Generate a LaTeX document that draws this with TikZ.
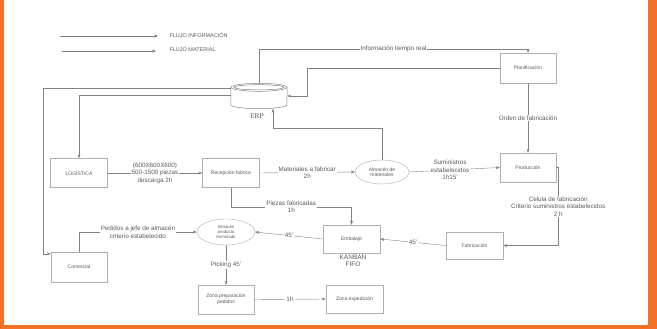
\documentclass[tikz,border=0pt]{standalone}
\usepackage{fontspec}
\setmainfont{Liberation Sans}
\newfontfamily\erpfont{Liberation Serif}
\usetikzlibrary{arrows.meta,shapes}
\definecolor{naranja}{RGB}{243,112,38}
\definecolor{linea}{RGB}{130,130,130}
\definecolor{borde}{RGB}{175,175,175}
\definecolor{texto}{RGB}{90,90,90}
\definecolor{elipse}{RGB}{170,170,195}

\begin{document}
\begin{tikzpicture}
			[x=1pt,y=-1pt,
			box/.style={draw=borde,fill=white,minimum width=57pt,minimum
				height=29pt,inner sep=1pt,align=center,text=texto,font=\fontsize{5}{6}\selectfont},
			store/.style={ellipse,draw=elipse,minimum width=54pt,minimum height=24pt,
				inner sep=0pt,align=center,text=texto,font=\fontsize{5}{5.5}\selectfont},
			lbl/.style={fill=white,inner sep=1pt,align=center,text=texto,font=\fontsize{6.3}{7.5}\selectfont},
			db/.style={draw=linea,line width=0.5pt},
			flow/.style={-{Stealth[length=4pt,width=3pt]},draw=linea,line width=0.4pt}]
			\useasboundingbox (0,0) rectangle (657,329);
			\fill [naranja] (0,0) rectangle (4,329);
			\fill [naranja] (648,0) rectangle (657,329);
			\fill [naranja] (0,325) rectangle (657,329);
			
			% leyenda
			\node (info) [anchor=west,text=texto,font=\fontsize{5.5}{6}\selectfont] at (166,35) {FLUJO INFORMACIÓN};
			\node (mat) [anchor=west,text=texto,font=\fontsize{5.5}{6}\selectfont] at (166,50) {FLUJO MATERIAL};
			\coordinate (info0) at (60,36);
			\coordinate (mat0) at (62,51);
			\draw [flow] (info0) -- ([xshift=-8pt,yshift=-1pt]info.west);
			\draw [flow] (mat0) -- ([xshift=-10pt,yshift=-1pt]mat.west);
			
			% ERP
			\node (erp) [minimum width=56pt,minimum height=25pt,inner sep=0pt] at (259,96) {};
			\draw [db] ([yshift=-4pt]erp.north) ellipse [x radius=28pt,y radius=4pt];
			\draw [db] ([yshift=-4pt]erp.north) ellipse [x radius=25pt,y radius=2.6pt];
			\draw [db] ([yshift=-4pt]erp.north west) -- ([yshift=4pt]erp.south west)
				arc [start angle=180,end angle=360,x radius=28pt,y radius=4pt]
				-- ([yshift=-4pt]erp.north east);
			\node (erplbl) [text=texto,font=\erpfont\fontsize{7.5}{8}\selectfont] at (257,116) {ERP};
			
			\node (planif) [box,minimum width=56pt,minimum height=30pt] at (528,68) {Planificación};
			\node (produc) [box,minimum width=56pt] at (528,167.5) {Producción};
			\node (logist) [box] at (79,173) {LOGÍSTICA};
			\node (recep) [box] at (231,173) {Recepción fabrica};
			\node (almmat) [store] at (382,172) {Almacén de\\materiales};
			\node (fabric) [box,minimum height=27pt] at (474.5,245.5) {Fabricación};
			\node (embal) [box,minimum height=28pt] at (351.5,239) {Embalaje};
			\node (almpt) [store,minimum width=58pt,minimum height=26pt,font=\fontsize{4.3}{5}\selectfont] at (226,232) {Almacén\\producto\\terminado};
			\node (comerc) [box,minimum width=56pt,minimum height=30pt] at (79,267) {Comercial};
			\node (zprep) [box,minimum width=56pt] at (226,299.5) {Zona preparación\\pedidos};
			\node (zexp) [box,minimum height=28pt] at (354.5,299) {Zona expedición};
			\node (kanban) [text=texto,align=center,font=\fontsize{6.5}{7}\selectfont] at (353,261) {KANBAN\\FIFO};
			
			\draw [flow] (erp.north) |- node [lbl,pos=0.75] {Información tiempo real} ([yshift=4pt]planif.north) -- (planif.north);
			\draw [flow] (planif.west) -| ([xshift=20pt]erp.east) -- (erp.east);
			\draw [flow] ([yshift=8pt]erp.west) -| ([xshift=-8pt,yshift=-2pt]comerc.north west) -- ([yshift=-2pt]comerc.north west);
			\draw [flow] ([yshift=1pt]erp.west) -| (logist.north);
			\draw [flow] (almmat.north) |- ([xshift=14pt,yshift=-20pt]erp.south) -- ([xshift=14pt]erp.south);
			\draw [flow] (planif.south) -- node [lbl] {Orden de fabricación} (produc.north);
			\draw [flow] (logist.east) -- node [lbl] {(600X600X600)\\500-1500 piezas\\descarga 2h} (recep.west);
			\draw [flow] (recep.east) -- node [lbl] {Materiales a fabricar\\2h} (almmat.west);
			\draw [flow] (almmat.east) -- node [lbl,pos=0.45] {Suministros\\estabelecidos\\1h15'} (produc.west);
			\draw [flow] (produc.east) -- ++(2,0) |- node [lbl,pos=0.25] {Celula de fabricación\\Criterio suministros estabelecidos\\2 h} (fabric.east);
			\draw [flow] (fabric.west) -- node [lbl] {45'} (embal.east);
			\draw [flow] (recep.south) |- node [lbl,pos=0.75] {Piezas fabricadas\\1h} ([yshift=18pt]embal.north) -- (embal.north);
			\draw [flow] (embal.west) -- node [lbl] {45'} (almpt.east);
			\draw [flow] (comerc.north) |- node [lbl,pos=0.75] {Pedidos a jefe de almacén\\criterio estabelecido} (almpt.west);
			\draw [flow] (almpt.south) -- node [lbl] {Picking 45'} (zprep.north);
			\draw [flow] (zprep.east) -- node [lbl] {1h} (zexp.west);
			\end{tikzpicture}
\end{document}
